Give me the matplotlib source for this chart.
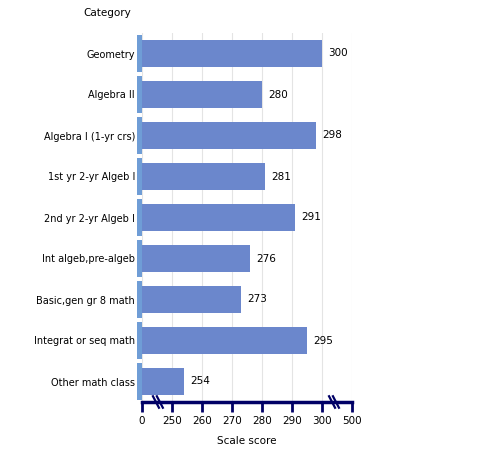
import matplotlib
matplotlib.use("Agg")
import matplotlib.pyplot as plt

categories = ["Geometry", "Algebra II", "Algebra I (1-yr crs)", "1st yr 2-yr Algeb I",
              "2nd yr 2-yr Algeb I", "Int algeb,pre-algeb", "Basic,gen gr 8 math",
              "Integrat or seq math", "Other math class"]
scores = [300, 280, 298, 281, 291, 276, 273, 295, 254]

# broken axis: 0 is drawn at 240, 500 at 310
tick_pos = [240, 250, 260, 270, 280, 290, 300, 310]
tick_labels = ["0", "250", "260", "270", "280", "290", "300", "500"]
axis_start = 240

bar_color = "#6b87cc"
strip_color = "#6f9dd6"
navy = "#000066"

fig = plt.figure(figsize=(4.99, 4.50), dpi=100)
ax = fig.add_axes([142 / 499, 48 / 450, 210 / 499, 369 / 450])

y = list(range(len(categories)))
ax.barh(y, [s - axis_start for s in scores], left=axis_start, height=0.66,
        color=bar_color, zorder=3)
for yi, s in zip(y, scores):
    ax.text(s + 2, yi, str(s), va="center", ha="left", fontsize=7.5, color="black")
    # light strip along the left edge of each band
    ax.fill_betweenx([yi - 0.45, yi + 0.45], axis_start - 1.6, axis_start,
                     color=strip_color, lw=0, zorder=3, clip_on=False)

ax.set_xlim(240, 310)
ax.set_ylim(len(categories) - 0.5, -0.5)
ax.set_yticks(y)
ax.set_yticklabels(categories, fontsize=7)
ax.tick_params(axis="y", length=0, pad=5)
ax.set_xticks(tick_pos)
ax.set_xticklabels(tick_labels, fontsize=7.5)
ax.tick_params(axis="x", length=7, width=2, color=navy, direction="out", pad=3)
ax.grid(axis="x", color="#e4e4e4", lw=0.8, zorder=0)

for side in ["top", "right", "left"]:
    ax.spines[side].set_visible(False)
ax.spines["bottom"].set_color(navy)
ax.spines["bottom"].set_linewidth(2.5)

# break marks "\\"
for bx in [245.3, 304.0]:
    for dx in [-0.65, 0.65]:
        ax.plot([bx + dx - 1.0, bx + dx + 1.0], [8.5 - 0.14, 8.5 + 0.14],
                color=navy, lw=1.6, clip_on=False, zorder=5)

ax.set_xlabel("Scale score", fontsize=7.5, labelpad=7)
fig.text(107 / 499, 1 - 13 / 450, "Category", ha="center", va="center", fontsize=7.5)

fig.savefig("out.png", dpi=100)
